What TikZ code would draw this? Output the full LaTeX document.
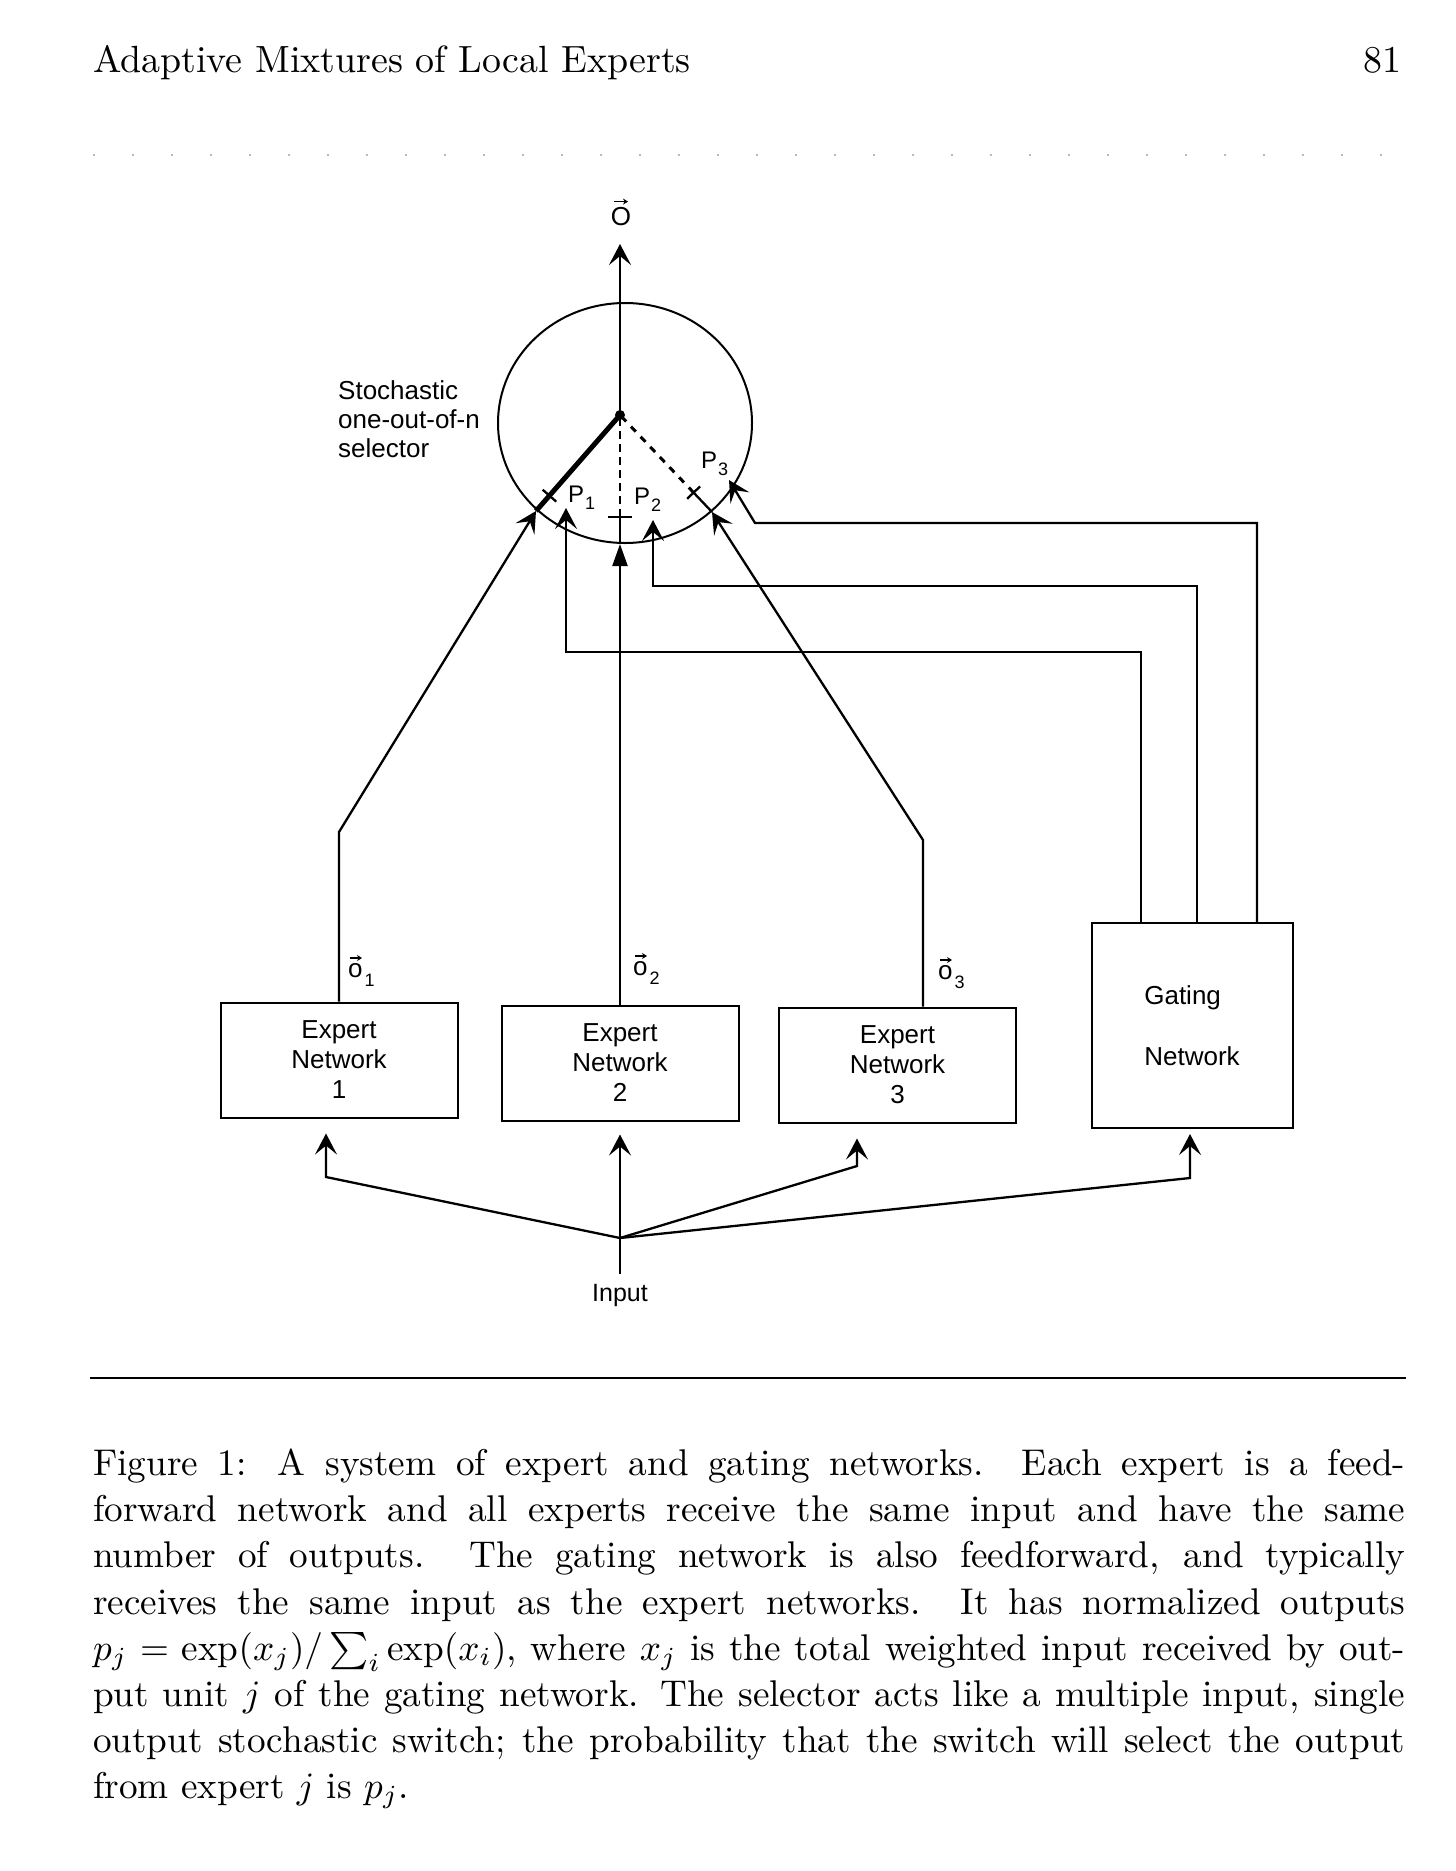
\documentclass[tikz,border=0pt]{standalone}
\usepackage{fontspec}
\newfontfamily\dsf{Liberation Sans}
\usetikzlibrary{arrows.meta,calc,shapes.geometric}
\newcommand{\capline}[1]{\scalebox{3.72}{\makebox[352.7pt][s]{#1}}}
\newcommand{\caplast}[1]{\scalebox{3.72}{#1}}
\newcommand{\osub}[1]{o\kern2pt\raisebox{-9pt}{\fontsize{18}{18}\selectfont #1}}
\newcommand{\plab}[1]{{\fontsize{24}{24}\selectfont\dsf P}\kern1pt\raisebox{-7pt}{\fontsize{18}{18}\selectfont\dsf #1}}
\begin{document}
\begin{tikzpicture}[x=1pt, y=-1pt,
  ln/.style={line width=2.3pt},
  sarr/.style={ln, -{Stealth[length=21pt,width=22pt,inset=9pt]}},
  farr/.style={ln, -{Triangle[length=22pt,width=15pt]}},
  vecarr/.style={line width=1.4pt, -{Stealth[length=5pt,width=6pt]}},
  bx/.style={draw, line width=2pt, minimum width=237pt, minimum height=115pt, inner sep=0pt,
    font=\fontsize{26}{30}\selectfont\dsf, align=center},
  lbl/.style={font=\fontsize{26}{29}\selectfont\dsf, inner sep=0pt}]
\fill[white] (0,0) rectangle (1456,1871);
\useasboundingbox (0,0) rectangle (1456,1871);

% page header
\node[anchor=base west, inner sep=0pt] (head) at (93,72) {\scalebox{3.79}{Adaptive Mixtures of Local Experts}};
\node[anchor=base east, inner sep=0pt] (pg) at (1402,72) {\scalebox{3.79}{81}};
\draw[gray!55, line width=1.5pt, dash pattern=on 2pt off 37pt] (93,155) -- (1400,155);

% selector
\node[draw, ellipse, line width=2pt, minimum width=254pt, minimum height=240pt, inner sep=0pt, outer sep=0pt] (sel) at (625,423) {};
\node[lbl, anchor=west, align=left] (sellab) at (338,419) {Stochastic\\one-out-of-n\\selector};
\node[lbl] (olab) at (621,217) {O};
\draw[vecarr] ([xshift=-7pt,yshift=6pt]olab.north) -- ++(14pt,0);

\coordinate (hub) at (620,415);
\coordinate (c1) at (536,511);
\coordinate (c2) at (620,544);
\coordinate (c3) at (712,512);
\coordinate (otop) at (620,244);
\coordinate (p1) at (566,508);
\coordinate (p2) at (653,520);
\coordinate (p3) at (729,480);
\coordinate (inj) at (620,1238);
\coordinate (t1) at ($(hub)!0.84!(c1)$);
\coordinate (t2) at (620,517);
\coordinate (t3) at ($(hub)!0.8!(c3)$);

\node[anchor=base west, inner sep=0pt] (P1) at (568,502) {\plab{1}};
\node[anchor=base west, inner sep=0pt] (P2) at (634,504) {\plab{2}};
\node[anchor=base west, inner sep=0pt] (P3) at (701,468) {\plab{3}};

% boxes
\node[bx] (e1) at (339,1060) {\rule{0pt}{12pt}Expert\\Network\\1};
\node[bx] (e2) at (620,1063) {\rule{0pt}{12pt}Expert\\Network\\2};
\node[bx] (e3) at (897.5,1065) {\rule{0pt}{12pt}Expert\\Network\\3};
\node[bx, minimum width=201pt, minimum height=205pt, align=left] (gate) at (1192,1025.5) {Gating\\[31pt]Network};

\node[lbl, anchor=base west] (o1) at (348,977) {\osub{1}};
\node[lbl, anchor=base west] (o2) at (633,975) {\osub{2}};
\node[lbl, anchor=base west] (o3) at (938,979) {\osub{3}};
\draw[vecarr] ([xshift=2pt,yshift=19pt]o1.base west) -- ++(12pt,0);
\draw[vecarr] ([xshift=2pt,yshift=19pt]o2.base west) -- ++(12pt,0);
\draw[vecarr] ([xshift=2pt,yshift=19pt]o3.base west) -- ++(12pt,0);
\node[lbl, font=\fontsize{25}{29}\selectfont\dsf] (inlab) at (620,1295) {Input};

% output of selector
\draw[sarr] (hub) -- (otop);

% expert outputs
\draw[sarr] (e1.north) -- (339,832) -- (c1);
\draw[farr] (e2.north) -- (c2);
\draw[sarr] ([xshift=25.5pt]e3.north) -- (923,840) -- (c3);

% inside the selector
\draw[line width=5pt] (hub) -- (c1);
\draw[ln] (c2) -- (t2);
\draw[line width=2.5pt, dash pattern=on 8pt off 5pt] (t2) -- (hub);
\draw[ln] (c3) -- (t3);
\draw[line width=3pt, dash pattern=on 7pt off 7pt] (t3) -- (hub);
\draw[ln] ($(t1)!9pt!90:(c1)$) -- ($(t1)!9pt!-90:(c1)$);
\draw[ln] (608,517) -- (632,517);
\draw[ln] ($(t3)!9pt!90:(c3)$) -- ($(t3)!9pt!-90:(c3)$);
\fill (hub) circle[radius=5pt];

% gating outputs
\draw[sarr] ([xshift=-51pt]gate.north) -- (1141,652) -- (566,652) -- (p1);
\draw[sarr] ([xshift=5pt]gate.north) -- (1197,586) -- (653,586) -- (p2);
\draw[sarr] ([xshift=65pt]gate.north) -- (1257,523) -- (755,523) -- (p3);

% input
\draw[ln] ([yshift=10pt]inlab.north) -- (inj);
\draw[sarr, shorten >=15pt] (inj) -- (326,1177) -- ([xshift=-13pt]e1.south);
\draw[sarr, shorten >=13pt] (inj) -- (e2.south);
\draw[sarr, shorten >=15pt] (inj) -- (857,1166) -- ([xshift=-40.5pt]e3.south);
\draw[sarr, shorten >=5pt] (inj) -- (1190,1178) -- ([xshift=-2pt]gate.south);

% rule and caption
\draw[line width=1.5pt] (90,1378) -- (1406,1378);
\node[anchor=base west, inner sep=0pt] (cap1) at (93,1475) {\capline{Figure 1: A system of expert and gating networks. Each expert is a feed-}};
\node[anchor=base west, inner sep=0pt] (cap2) at (93,1521) {\capline{forward network and all experts receive the same input and have the same}};
\node[anchor=base west, inner sep=0pt] (cap3) at (93,1567) {\capline{number of outputs. The gating network is also feedforward, and typically}};
\node[anchor=base west, inner sep=0pt] (cap4) at (93,1614) {\capline{receives the same input as the expert networks. It has normalized outputs}};
\node[anchor=base west, inner sep=0pt] (cap5) at (93,1660) {\capline{$p_j = \exp(x_j)/\sum_i \exp(x_i)$, where $x_j$ is the total weighted input received by out-}};
\node[anchor=base west, inner sep=0pt] (cap6) at (93,1706) {\capline{put unit $j$ of the gating network. The selector acts like a multiple input, single}};
\node[anchor=base west, inner sep=0pt] (cap7) at (93,1752) {\capline{output stochastic switch; the probability that the switch will select the output}};
\node[anchor=base west, inner sep=0pt] (cap8) at (93,1798) {\caplast{from expert $j$ is $p_j$.}};
\end{tikzpicture}
\end{document}
